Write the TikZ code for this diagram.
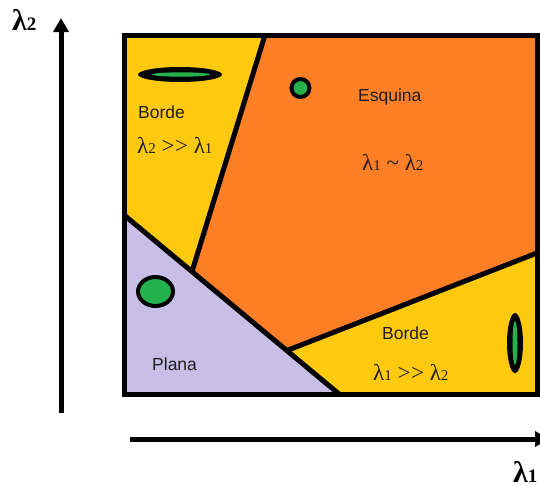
\documentclass[tikz,border=0pt]{standalone}
\usepackage{fontspec}
\setmainfont{Liberation Serif}
\setsansfont{Liberation Sans}
\usetikzlibrary{arrows.meta}
\definecolor{pyellow}{RGB}{255,201,14}
\definecolor{porange}{RGB}{255,127,39}
\definecolor{plav}{RGB}{200,191,231}
\definecolor{pgreen}{RGB}{34,177,76}
\definecolor{txt}{RGB}{30,30,30}
\newcommand\lmb[1]{λ{\fontsize{15}{15}\selectfont #1}}
\newcommand\lmbax[1]{λ{\fontsize{19}{19}\selectfont #1}}
\newcommand\mygt{>\kern0.5pt>}
\begin{document}
\begin{tikzpicture}[x=1pt,y=-1pt,
  edge/.style={line width=5pt, line join=round},
  lbl/.style={font=\sffamily\fontsize{17.5}{17.5}\selectfont, text=txt, inner sep=0pt, anchor=base west},
  mlbl/.style={font=\fontsize{23}{23}\selectfont, text=txt, inner sep=0pt, anchor=base west},
  axlbl/.style={font=\bfseries\fontsize{30}{30}\selectfont, text=black, inner sep=0pt, anchor=base west},
  ring/.style={draw=black, line width=4pt, fill=pgreen},
  axisline/.style={line width=5pt, -{Triangle[width=15pt,length=14pt]}}]
\useasboundingbox (0,0) rectangle (540,485);
% box corners and region points
\coordinate (A) at (124,35);
\coordinate (B) at (537,35);
\coordinate (C) at (537,394);
\coordinate (D) at (124,394);
\coordinate (P1) at (265,35);
\coordinate (P2) at (124,215);
\coordinate (P3) at (339,394);
\coordinate (J1) at (192,271.5);
\coordinate (J2) at (287,350.5);
\coordinate (Q) at (537,253);
% fills
\fill[pyellow] (A) rectangle (C);
\fill[porange] (P1) -- (B) -- (Q) -- (J2) -- (J1) -- cycle;
\fill[plav] (P2) -- (P3) -- (D) -- cycle;
% boundaries
\draw[edge] (P1) -- (J1);
\draw[edge] (P2) -- (P3);
\draw[edge] (J2) -- (Q);
\draw[line width=5pt] (A) rectangle (C);
% shapes
\fill[black] (180,74.5) ellipse [x radius=42, y radius=7.5];
\fill[pgreen] (181,74.5) ellipse [x radius=29, y radius=2.2];
\draw[ring] (300.5,88) circle [radius=9];
\draw[ring] (155.5,291.5) ellipse [x radius=17.5, y radius=14.5];
\fill[black] (515,343) ellipse [x radius=8, y radius=30];
\fill[pgreen] (515,343) ellipse [x radius=2.5, y radius=22];
% texts
\node[lbl] (b1) at (138,118) {Borde};
\node[mlbl] (m1) at (137,153) {\lmb{2} \mygt{} \lmb{1}};
\node[lbl] (es) at (358,101) {Esquina};
\node[mlbl] (m2) at (362,170) {\lmb{1} \char"007E{} \lmb{2}};
\node[lbl] (b2) at (382,339) {Borde};
\node[mlbl] (m3) at (373,380) {\lmb{1} \mygt{} \lmb{2}};
\node[lbl] (pl) at (152,370) {Plana};
% axes
\coordinate (Y0) at (61,413);
\coordinate (Y1) at (61,18);
\coordinate (X0) at (130,439);
\coordinate (X1) at (549,439);
\draw[axisline] (Y0) -- (Y1);
\draw[axisline] (X0) -- (X1);
\node[axlbl] (l2) at (12,30) {\lmbax{2}};
\node[axlbl] (l1) at (513,482) {\lmbax{1}};
\end{tikzpicture}
\end{document}
